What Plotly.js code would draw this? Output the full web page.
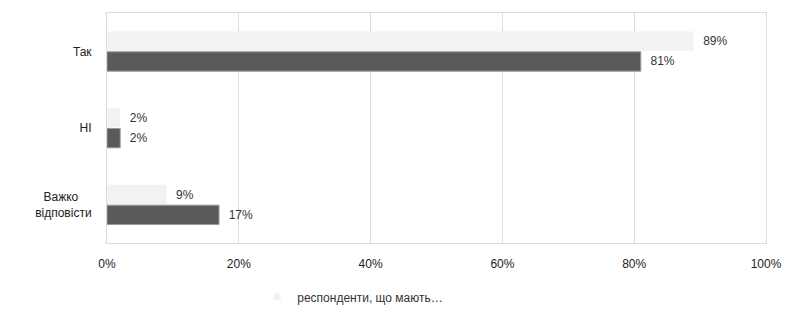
<!DOCTYPE html>
<html><head><meta charset="utf-8">
<script src="https://cdn.plot.ly/plotly-3.0.1.min.js"></script>
<style>html,body{margin:0;padding:0;background:#fff}</style>
</head><body>
<div id="chart" style="width:789px;height:312px"></div>
<script>
const categories = ["Так", "НІ", "Важко відповісти"];
const categoryLabels = ["Так", "НІ", "Важко\u00a0\u00a0\u00a0\u00a0<br>відповісти"];
const seriesNames = ["респонденти, що мають…", "респонденти, що не мають…"];
const seriesA = [89, 2, 9];
const seriesB = [81, 2, 17];
const tickVals = [0, 20, 40, 60, 80, 100];
const tickText = ["0%", "20%", "40%", "60%", "80%", "100%"];

const font = {family: "Liberation Sans, Arial, sans-serif", size: 12, color: "#333"};
const pad = "\u00a0\u00a0";
const traces = [
  {type: "bar", orientation: "h", name: seriesNames[0], y: categories, x: seriesA,
   text: seriesA.map(v => pad + v + "%"), textposition: "outside", cliponaxis: false,
   textfont: font, marker: {color: "#f2f2f2", line: {width: 0}}, showlegend: false},
  {type: "bar", orientation: "h", name: seriesNames[1], y: categories, x: seriesB,
   text: seriesB.map(v => pad + v + "%"), textposition: "outside", cliponaxis: false,
   textfont: font, marker: {color: "#5a5a5a", line: {color: "#9a9a9a", width: 1}},
   showlegend: false},
  {type: "scatter", mode: "markers", name: seriesNames[0], x: [null], y: [null],
   marker: {symbol: "square", size: 7, color: "#f2f2f2"}, showlegend: true}
];
const layout = {
  width: 789, height: 312,
  margin: {l: 107, r: 23, t: 13, b: 69, autoexpand: false},
  paper_bgcolor: "#fff", plot_bgcolor: "#fff",
  font: font,
  barmode: "group", bargap: 0.47, bargroupgap: 0.05,
  xaxis: {range: [0, 100], tickvals: tickVals, ticktext: tickText,
    showgrid: true, gridcolor: "#dcdcdc", gridwidth: 1, zeroline: false,
    showline: true, linecolor: "#dcdcdc", mirror: true, ticks: "",
    ticklabelstandoff: 10, automargin: false,
    tickfont: {family: font.family, size: 12, color: "#222"}},
  yaxis: {autorange: "reversed", showgrid: false, zeroline: false,
    showline: true, linecolor: "#dcdcdc", mirror: true, ticks: "",
    tickvals: categories, ticktext: categoryLabels, automargin: false,
    ticklabelstandoff: 12, tickfont: {family: font.family, size: 12, color: "#222"}},
  showlegend: true,
  legend: {orientation: "h", x: 0.228, xanchor: "left", y: -0.235, yanchor: "middle",
    font: {family: font.family, size: 12, color: "#333"}, itemwidth: 30}
};
Plotly.newPlot("chart", traces, layout, {displayModeBar: false, staticPlot: true});
</script>
</body></html>
